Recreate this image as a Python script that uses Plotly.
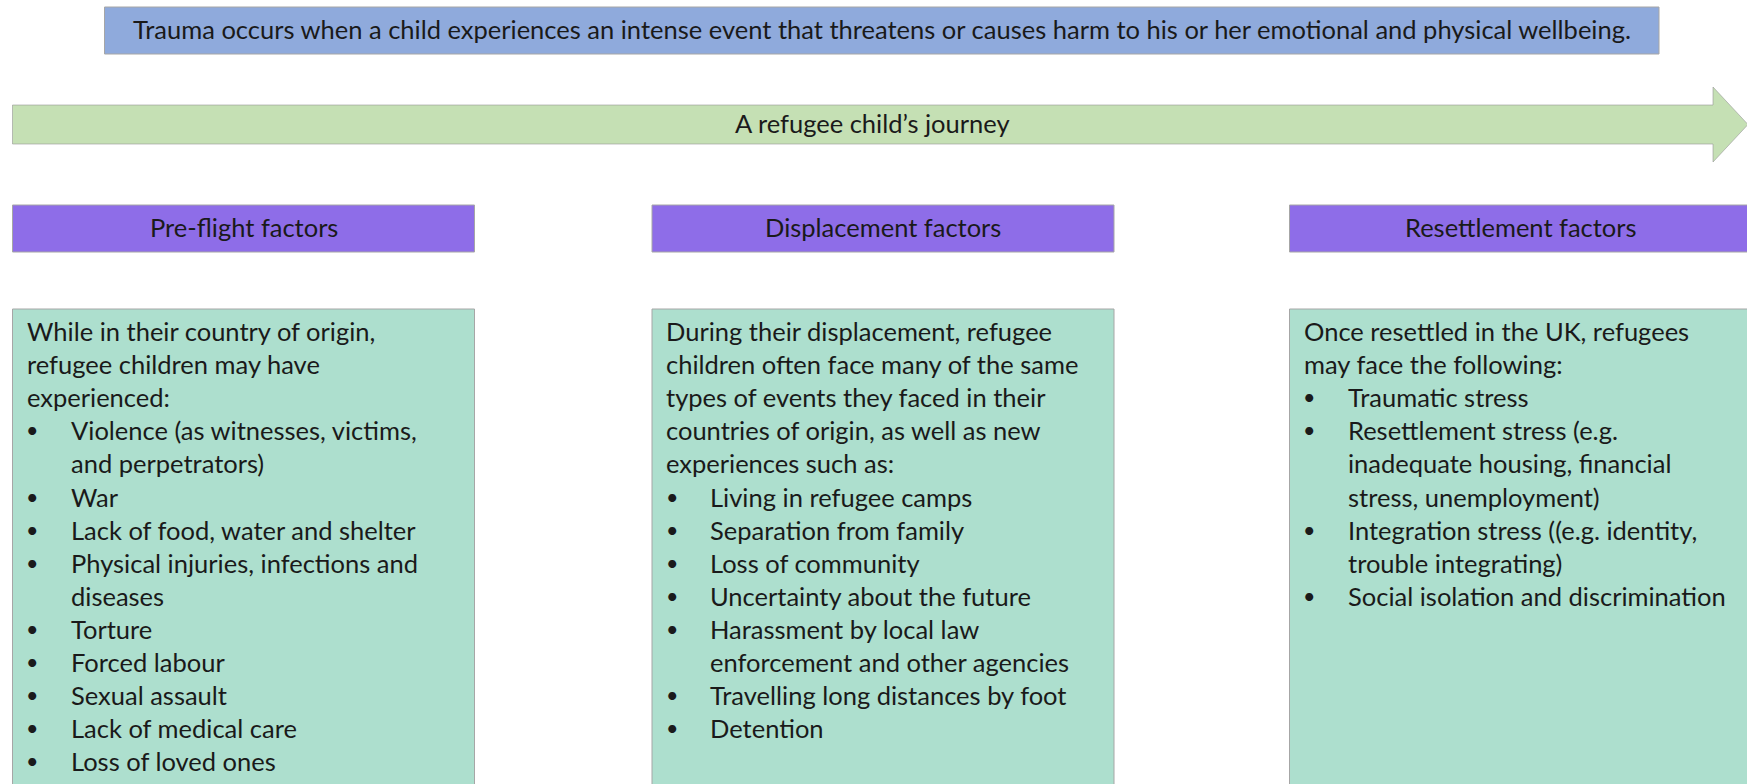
import plotly.graph_objects as go

# ---------------- data (text content) ----------------
title_text = ("Trauma occurs when a child experiences an intense event that threatens "
              "or causes harm to his or her emotional and physical wellbeing.")
arrow_text = "A refugee child\u2019s journey"
headers = ["Pre-flight factors", "Displacement factors", "Resettlement factors"]

intros = [
    ["While in their country of origin,", "refugee children may have", "experienced:"],
    ["During their displacement, refugee", "children often face many of the same",
     "types of events they faced in their", "countries of origin, as well as new",
     "experiences such as:"],
    ["Once resettled in the UK, refugees", "may face the following:"],
]

bullets = [
    [["Violence (as witnesses, victims,", "and perpetrators)"],
     ["War"],
     ["Lack of food, water and shelter"],
     ["Physical injuries, infections and", "diseases"],
     ["Torture"],
     ["Forced labour"],
     ["Sexual assault"],
     ["Lack of medical care"],
     ["Loss of loved ones"]],
    [["Living in refugee camps"],
     ["Separation from family"],
     ["Loss of community"],
     ["Uncertainty about the future"],
     ["Harassment by local law", "enforcement and other agencies"],
     ["Travelling long distances by foot"],
     ["Detention"]],
    [["Traumatic stress"],
     ["Resettlement stress (e.g.", "inadequate housing, financial", "stress, unemployment)"],
     ["Integration stress ((e.g. identity,", "trouble integrating)"],
     ["Social isolation and discrimination"]],
]

# ---------------- layout / style constants ----------------
W, H = 1747, 784
FONT = "Lato"
FS = 25.5
TXT = "#1a1a1a"
BLUE = "#8FAADC"
GREEN = "#C5E0B4"
PURPLE = "#8E6DE8"
TEAL = "#ADDFCE"
BORDER = "#A6A6A6"

col_x = [12.5, 652, 1289.5]
col_w = 462
head_y = (205, 252)
box_top = 309
line0 = 331
dy = 33.1

fig = go.Figure()
shapes = []
ann = []

# title box
shapes.append(dict(type="rect", x0=104.5, x1=1659, y0=7, y1=54,
                   fillcolor=BLUE, line=dict(color=BORDER, width=1)))
ann.append(dict(x=(104.5 + 1659) / 2, y=28.5, text=title_text, showarrow=False,
                xanchor="center", yanchor="middle", font=dict(family=FONT, size=FS, color=TXT)))

# arrow
ax0, ax1, tip = 12.5, 1713, 1748
by0, by1, hy0, hy1 = 105, 144, 87, 162
ym = (by0 + by1) / 2
path = (f"M {ax0},{by0} L {ax1},{by0} L {ax1},{hy0} L {tip},{ym} "
        f"L {ax1},{hy1} L {ax1},{by1} L {ax0},{by1} Z")
shapes.append(dict(type="path", path=path, fillcolor=GREEN,
                   line=dict(color="rgba(150,150,150,0.6)", width=1)))
ann.append(dict(x=872, y=123, text=arrow_text, showarrow=False,
                xanchor="center", yanchor="middle", font=dict(family=FONT, size=FS, color=TXT)))

for c in range(3):
    x0 = col_x[c]
    # header
    shapes.append(dict(type="rect", x0=x0, x1=x0 + col_w, y0=head_y[0], y1=head_y[1],
                       fillcolor=PURPLE, line=dict(color=BORDER, width=1)))
    ann.append(dict(x=x0 + col_w / 2, y=sum(head_y) / 2 - 2, text=headers[c], showarrow=False,
                    xanchor="center", yanchor="middle",
                    font=dict(family=FONT, size=FS, color=TXT)))
    # body box
    shapes.append(dict(type="rect", x0=x0, x1=x0 + col_w, y0=box_top, y1=H + 20,
                       fillcolor=TEAL, line=dict(color=BORDER, width=1)))
    i = 0
    for line in intros[c]:
        ann.append(dict(x=x0 + 12, y=line0 + dy * i, text=line, showarrow=False,
                        xanchor="left", yanchor="middle",
                        font=dict(family=FONT, size=FS, color=TXT)))
        i += 1
    for item in bullets[c]:
        ann.append(dict(x=x0 + 19.5, y=line0 + dy * i, text="\u2022", showarrow=False,
                        xanchor="center", yanchor="middle",
                        font=dict(family=FONT, size=FS - 4, color=TXT)))
        for line in item:
            ann.append(dict(x=x0 + 56, y=line0 + dy * i, text=line, showarrow=False,
                            xanchor="left", yanchor="middle",
                            font=dict(family=FONT, size=FS, color=TXT)))
            i += 1

fig.update_layout(
    width=W, height=H, margin=dict(l=0, r=0, t=0, b=0),
    paper_bgcolor="white", plot_bgcolor="white",
    xaxis=dict(range=[0, W], visible=False, fixedrange=True),
    yaxis=dict(range=[H, 0], visible=False, fixedrange=True),
    shapes=shapes, annotations=ann, showlegend=False,
)
fig.write_html("out.html", config={"displayModeBar": False},
               post_script="document.body.style.margin='0';")
